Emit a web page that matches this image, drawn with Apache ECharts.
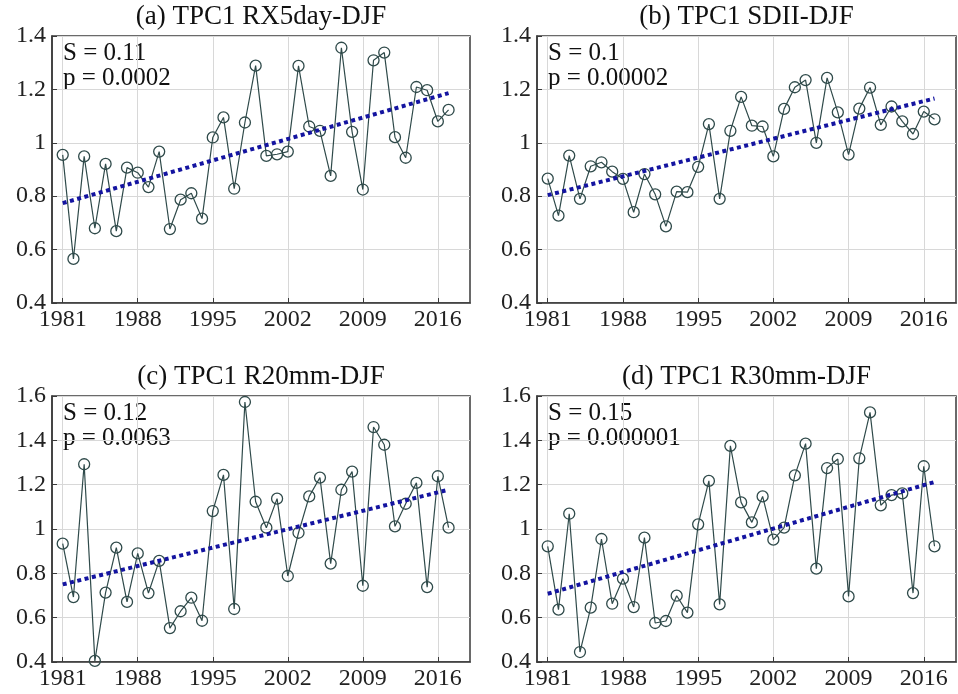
<!DOCTYPE html>
<html>
<head>
<meta charset="utf-8">
<script src="https://cdn.jsdelivr.net/npm/echarts@6/dist/echarts.min.js"></script>
<style>
html,body{margin:0;padding:0;background:#fff;}
#c{width:958px;height:694px;}
</style>
</head>
<body>
<div id="c"></div>
<script>
const years = [1981,1982,1983,1984,1985,1986,1987,1988,1989,1990,1991,1992,1993,1994,1995,1996,1997,1998,1999,2000,2001,2002,2003,2004,2005,2006,2007,2008,2009,2010,2011,2012,2013,2014,2015,2016,2017];
const xTicks = [1981,1988,1995,2002,2009,2016];

const rx5day = [0.955,0.565,0.949,0.68,0.921,0.669,0.907,0.888,0.834,0.967,0.677,0.787,0.811,0.716,1.02,1.095,0.828,1.076,1.289,
                0.951,0.957,0.967,1.288,1.061,1.045,0.876,1.356,1.041,0.825,1.309,1.338,1.021,0.944,1.209,1.197,1.08,1.123];
const sdii = [0.866,0.727,0.952,0.79,0.912,0.927,0.892,0.865,0.74,0.883,0.807,0.687,0.817,0.815,0.91,
              1.07,0.79,1.045,1.172,1.064,1.061,0.949,1.127,1.208,1.235,1.0,1.243,1.114,0.956,1.128,1.207,1.067,1.136,1.08,1.033,1.117,1.088];
const r20mm = [0.934,0.693,1.292,0.405,0.713,0.916,0.671,0.89,0.711,0.856,0.553,0.629,0.69,0.586,1.081,1.244,0.639,1.573,
               1.123,1.006,1.137,0.788,0.983,1.147,1.232,0.844,1.177,1.259,0.744,1.46,1.38,1.012,1.114,1.208,0.738,1.238,1.006];
const r30mm = [0.922,0.636,1.069,0.445,0.645,0.955,0.663,0.776,0.648,0.961,0.576,0.585,0.699,0.623,1.021,1.217,0.66,1.375,
               1.12,1.03,1.147,0.952,1.006,1.242,1.385,0.821,1.275,1.316,0.696,1.319,1.526,1.107,1.153,1.161,0.711,1.283,0.922];

const trendYears = [1981, 2017];
const trendA = [0.774, 1.186];
const trendB = [0.804, 1.166];
const trendC = [0.750, 1.177];
const trendD = [0.708, 1.212];

const titles = ['(a) TPC1 RX5day-DJF','(b) TPC1 SDII-DJF','(c) TPC1 R20mm-DJF','(d) TPC1 R30mm-DJF'];
const sTexts = ['S = 0.11','S = 0.1','S = 0.12','S = 0.15'];
const pTexts = ['p = 0.0002','p = 0.00002','p = 0.0063','p = 0.000001'];
const yRanges = [[0.4,1.4],[0.4,1.4],[0.4,1.6],[0.4,1.6]];

const panels = [rx5day, sdii, r20mm, r30mm];
const trends = [trendA, trendB, trendC, trendD];

const FONT = 'Liberation Serif';
const lineColor = '#2f4a4a';
const trendColor = '#1414a0';
const frameColor = '#3a3a3a';
const gridColor = '#d8d8d8';

const grids = [
  {left:52, top:36, width:418, height:267},
  {left:537, top:36, width:419, height:267},
  {left:52, top:396, width:418, height:266},
  {left:537, top:396, width:419, height:266}
];

const option = {
  backgroundColor:'#fff',
  animation:false,
  textStyle:{fontFamily:FONT},
  grid: grids.map(g => Object.assign({show:true, borderColor:frameColor, borderWidth:1.5, backgroundColor:'transparent', containLabel:false}, g)),
  xAxis: grids.map((g,i) => ({
    type:'value', gridIndex:i, min:1980, max:2019,
    axisLine:{show:true, lineStyle:{color:frameColor, width:1.5}},
    axisTick:{show:true, inside:true, length:5, customValues:xTicks, lineStyle:{color:frameColor}},
    axisLabel:{customValues:xTicks, color:'#222', fontFamily:FONT, fontSize:24, margin:5, formatter:v=>String(v)},
    splitLine:{show:true, lineStyle:{color:gridColor, width:1}}
  })),
  yAxis: grids.map((g,i) => ({
    type:'value', gridIndex:i, min:yRanges[i][0], max:yRanges[i][1], interval:0.2,
    axisLine:{show:true, lineStyle:{color:frameColor, width:1.5}},
    axisTick:{show:true, inside:true, length:5, lineStyle:{color:frameColor}},
    axisLabel:{color:'#222', fontFamily:FONT, fontSize:24, margin:6},
    splitLine:{show:true, lineStyle:{color:gridColor, width:1}}
  })),
  series: [],
  graphic: []
};

panels.forEach((vals,i) => {
  option.series.push({
    type:'line', xAxisIndex:i, yAxisIndex:i,
    data: years.map((y,k) => [y, vals[k]]),
    symbol:'circle', symbolSize:11, showSymbol:true,
    lineStyle:{color:lineColor, width:1.2},
    itemStyle:{color:'rgba(0,0,0,0)', borderColor:lineColor, borderWidth:1.3},
    z:3
  });
  option.series.push({
    type:'line', xAxisIndex:i, yAxisIndex:i,
    data: trendYears.map((y,k) => [y, trends[i][k]]),
    symbol:'none',
    lineStyle:{color:trendColor, width:4, type:[4,3.5]},
    z:4
  });
  const g = grids[i];
  option.graphic.push({
    type:'text', x:g.left + g.width/2, y:g.top - 19,
    style:{text:titles[i], font:'27px ' + FONT, fill:'#111', textAlign:'center', textVerticalAlign:'middle'}
  });
  option.graphic.push({
    type:'text', x:g.left + 11, y:g.top + 17,
    style:{text:sTexts[i], font:'25px ' + FONT, fill:'#111', textAlign:'left', textVerticalAlign:'middle'}
  });
  option.graphic.push({
    type:'text', x:g.left + 11, y:g.top + 42,
    style:{text:pTexts[i], font:'25px ' + FONT, fill:'#111', textAlign:'left', textVerticalAlign:'middle'}
  });
});

const chart = echarts.init(document.getElementById('c'), null, {renderer:'canvas'});
chart.setOption(option);
</script>
</body>
</html>
